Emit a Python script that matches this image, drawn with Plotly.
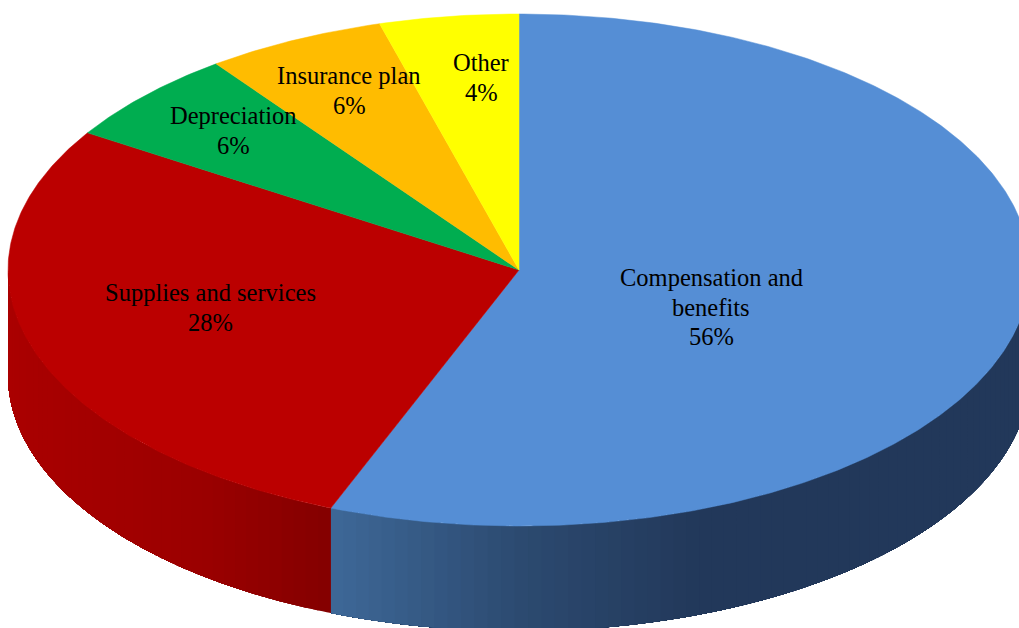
import numpy as np
import plotly.graph_objects as go

categories = ["Compensation and<br>benefits", "Supplies and services", "Depreciation", "Insurance plan", "Other"]
values = [56, 28, 5.9, 5.7, 4.4]
top_colors = ["#558ED5", "#BB0000", "#00AD50", "#FFBC00", "#FFFF00"]

# wall gradient stops: (screen x, rgb)
wall_stops = [
    [(330, (62, 104, 152)), (520, (44, 74, 112)), (700, (34, 56, 90)), (1030, (34, 56, 90))],
    [(8, (170, 0, 0)), (200, (155, 0, 0)), (330, (132, 0, 0))],
]

CX, CY, RX, RY, DEPTH = 519, 270, 511, 256, 105
label_pos = [(711, 307), (210, 307.5), (233, 130.5), (349, 90.5), (481, 77.5)]
FONT = "Liberation Serif"
FONT_SIZE = 24.5
LINE_GAP = 29.3


def pt(theta):
    return CX + RX * np.sin(theta), CY - RY * np.cos(theta)


def wall_color(slice_i, x):
    stops = wall_stops[slice_i]
    xs = [s[0] for s in stops]
    rgb = [np.interp(x, xs, [s[1][c] for s in stops]) for c in range(3)]
    return "rgb(%d,%d,%d)" % tuple(round(v) for v in rgb)


total = sum(values)
edges = np.concatenate([[0], np.cumsum(values)]) / total * 2 * np.pi

fig = go.Figure()

# side wall: each band runs from its start to the end of the slice, so the next band
# paints over it and no seam can show between bands
for i in range(len(values)):
    a, b = max(edges[i], np.pi / 2), min(edges[i + 1], 3 * np.pi / 2)
    if b <= a:
        continue
    n = max(2, int((b - a) / np.radians(1.5)))
    th = np.linspace(a, b, n + 1)
    for t0, t1 in zip(th[:-1], th[1:]):
        x, y = pt(np.linspace(t0, b, max(4, int((b - t0) / np.radians(0.5)))))
        xs = np.concatenate([x, x[::-1]])
        ys = np.concatenate([y, y[::-1] + DEPTH])
        xm = pt((t0 + t1) / 2)[0]
        fig.add_trace(go.Scatter(x=xs, y=ys, mode="none", fill="toself", fillcolor=wall_color(i, xm),
                                 hoverinfo="skip", showlegend=False))

# top face
for i in range(len(values)):
    tt = np.linspace(edges[i], edges[i + 1], max(8, int((edges[i + 1] - edges[i]) / np.radians(0.5))))
    x, y = pt(tt)
    xs = np.concatenate([[CX], x, [CX]])
    ys = np.concatenate([[CY], y, [CY]])
    fig.add_trace(go.Scatter(x=xs, y=ys, mode="lines", fill="toself", fillcolor=top_colors[i],
                             line=dict(color=top_colors[i], width=0.5), hoverinfo="skip", showlegend=False))

for name, v, (lx, ly) in zip(categories, values, label_pos):
    lines = name.split("<br>") + [f"{round(v)}%"]
    for k, line in enumerate(lines):
        fig.add_annotation(x=lx, y=ly + (k - (len(lines) - 1) / 2) * LINE_GAP, xref="x", yref="y",
                           text=line, showarrow=False, align="center",
                           font=dict(family=FONT, size=FONT_SIZE, color="black"))

fig.update_xaxes(range=[0, 1019], visible=False, fixedrange=True)
fig.update_yaxes(range=[628, 0], visible=False, fixedrange=True)
fig.update_layout(width=1019, height=628, margin=dict(l=0, r=0, t=0, b=0),
                  paper_bgcolor="white", plot_bgcolor="white", showlegend=False)
fig.write_html("out.html", config={"displayModeBar": False},
               post_script="document.body.style.margin='0';document.documentElement.style.overflow='hidden';")
